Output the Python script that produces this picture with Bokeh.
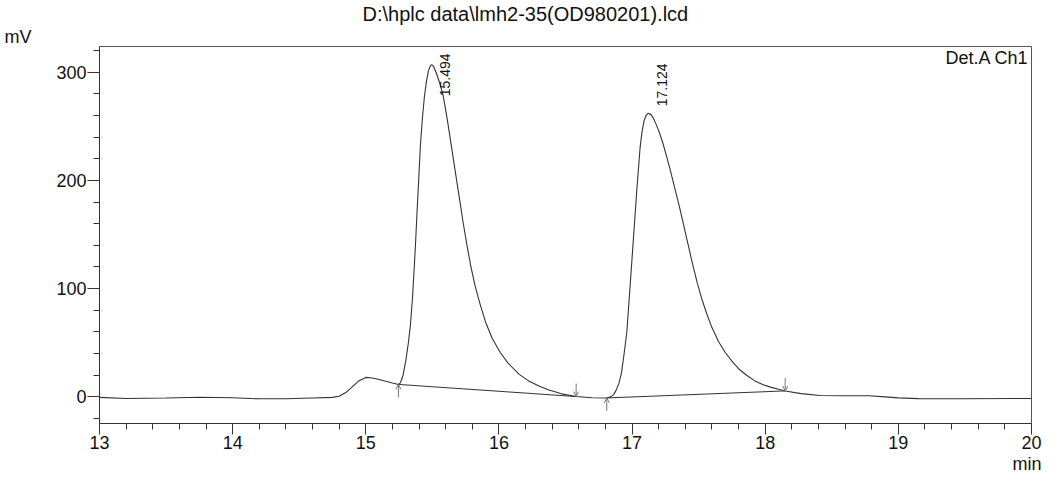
import numpy as np
from bokeh.plotting import figure
from bokeh.models import Range1d, FixedTicker, Label, Arrow, OpenHead, Title
from bokeh.embed import file_html
from bokeh.resources import INLINE

# ---------------- data ----------------
time_min = [13.00, 13.20, 13.50, 13.75, 14.00, 14.20, 14.40, 14.60, 14.75, 14.80,
            14.85, 14.90, 14.95, 15.00, 15.05, 15.10, 15.15, 15.20, 15.245,
            15.26, 15.28, 15.30, 15.32, 15.335, 15.35, 15.36, 15.373, 15.385,
            15.398, 15.41, 15.425, 15.44, 15.455, 15.47, 15.485, 15.495,
            15.51, 15.53, 15.555, 15.58, 15.61, 15.64, 15.67, 15.70, 15.73,
            15.76, 15.79, 15.82, 15.86, 15.90, 15.95, 16.01, 16.07, 16.15,
            16.22, 16.30, 16.37, 16.47, 16.58, 16.70, 16.81,
            16.84, 16.86, 16.88, 16.90, 16.92, 16.935, 16.96, 16.985, 17.01,
            17.035, 17.06, 17.075, 17.09, 17.105, 17.12,
            17.14, 17.16, 17.18, 17.20, 17.23, 17.26, 17.29, 17.32, 17.355,
            17.385, 17.415, 17.45, 17.49, 17.525, 17.56, 17.60, 17.65, 17.70,
            17.75, 17.80, 17.86, 17.92, 17.98, 18.04, 18.10, 18.15,
            18.27, 18.41, 18.58, 18.78, 18.90, 19.00, 19.15, 19.45, 20.00]
signal_mv = [-0.5, -1.5, -1.0, -0.3, -0.8, -1.8, -1.8, -1.0, -0.5, 0.5,
             4.0, 9.5, 15.0, 18.0, 17.5, 16.0, 14.5, 12.8, 11.5,
             13.0, 20.0, 33.0, 50.0, 66.0, 90.0, 111.0, 140.0, 171.0,
             202.0, 232.0, 257.0, 277.0, 291.0, 301.0, 306.0, 307.0,
             305.0, 299.0, 290.0, 279.0, 258.0, 234.0, 210.0, 186.0, 162.0,
             140.0, 120.0, 103.0, 85.0, 69.0, 54.0, 41.0, 31.0, 21.0,
             15.0, 10.0, 6.5, 2.8, 0.3, -0.8, -1.0,
             0.0, 1.8, 6.0, 12.0, 22.0, 35.0, 59.0, 102.0, 146.0,
             190.0, 230.0, 245.0, 255.0, 260.0, 262.0,
             261.0, 257.5, 252.0, 246.0, 235.0, 222.0, 208.0, 193.0, 176.0,
             160.0, 144.0, 125.0, 105.0, 90.0, 77.0, 64.0, 51.0, 41.0,
             33.0, 26.0, 20.0, 15.0, 11.5, 9.0, 7.0, 5.5,
             3.0, 1.2, 1.0, 1.0, 0.0, -0.9, -1.6, -1.8, -1.5]

peak_rt = [15.494, 17.124]
peak_height = [307.0, 262.0]
peak_text = ["15.494", "17.124"]

base_start_t = [15.245, 16.81]
base_start_mv = [11.5, -1.0]
base_end_t = [16.58, 18.15]
base_end_mv = [0.3, 5.5]

x_ticks = [13, 14, 15, 16, 17, 18, 19, 20]
y_ticks = [0, 100, 200, 300]

title_text = "D:\\hplc data\\lmh2-35(OD980201).lcd"
y_unit = "mV"
x_unit = "min"
channel_text = "Det.A Ch1"

# ---------------- layout ----------------
W, H = 1042, 475
BL, BR, BT, BB = 99, 11, 44, 52
X0, X1 = 13.0, 20.0
Y0, Y1 = -24.6, 323.7
fw = W - BL - BR
fh = H - BT - BB
ppx = fw / (X1 - X0)   # px per minute
ppy = fh / (Y1 - Y0)   # px per mV


def dx(px):
    return px / ppx


def dy(px):
    return px / ppy


FONT = "Liberation Sans"
TXT = "#111111"

p = figure(width=W, height=H, output_backend="svg", toolbar_location=None,
           x_range=Range1d(X0, X1), y_range=Range1d(Y0, Y1),
           min_border_left=BL, min_border_right=BR,
           min_border_top=BT, min_border_bottom=BB)
p.background_fill_color = "white"
p.border_fill_color = "white"
p.outline_line_color = "#555555"
p.outline_line_width = 1
p.grid.visible = False

# titles / unit texts live in side panels so they are not clipped
p.title.text = title_text
p.title.align = "left"
p.title.offset = 263
p.title.text_font = FONT
p.title.text_font_size = "20px"
p.title.text_font_style = "normal"
p.title.text_color = TXT
p.title.standoff = 0

p.add_layout(Title(text=y_unit, align="left", offset=-95, text_font=FONT,
                   text_font_size="18px", text_font_style="normal",
                   text_color=TXT, standoff=0), "above")
p.add_layout(Title(text=x_unit, align="right", offset=-10, text_font=FONT,
                   text_font_size="18px", text_font_style="normal",
                   text_color=TXT, standoff=0), "below")

minor_x = [round(a + b * 0.2, 2) for a in range(13, 20) for b in range(1, 5)]
minor_y = [v for v in range(-20, 321, 20) if v % 100 != 0]
p.xaxis.ticker = FixedTicker(ticks=x_ticks, minor_ticks=minor_x)
p.yaxis.ticker = FixedTicker(ticks=y_ticks, minor_ticks=minor_y)

for ax in (p.xaxis, p.yaxis):
    ax.axis_line_color = "#333333"
    ax.major_tick_line_color = "#333333"
    ax.minor_tick_line_color = "#333333"
    ax.major_tick_in = 0
    ax.minor_tick_in = 0
    ax.major_label_text_font = FONT
    ax.major_label_text_font_size = "18px"
    ax.major_label_text_color = TXT
p.xaxis.major_tick_out = 11
p.xaxis.minor_tick_out = 6
p.yaxis.major_tick_out = 12
p.yaxis.minor_tick_out = 6
p.xaxis.major_label_standoff = 1
p.yaxis.major_label_standoff = 1

# chromatogram trace
p.line(time_min, signal_mv, line_color="#333333", line_width=1.1)

# integration baselines
for t0, v0, t1, v1 in zip(base_start_t, base_start_mv, base_end_t, base_end_mv):
    p.line([t0, t1], [v0, v1], line_color="#333333", line_width=1)

# start (up) and end (down) markers
alen = dy(13)
for t0, v0, t1, v1 in zip(base_start_t, base_start_mv, base_end_t, base_end_mv):
    p.add_layout(Arrow(x_start=t0, y_start=v0 - alen, x_end=t0, y_end=v0,
                       line_color="#777777", line_width=1,
                       end=OpenHead(size=5, line_color="#777777", line_width=1)))
    p.add_layout(Arrow(x_start=t1, y_start=v1 + alen, x_end=t1, y_end=v1,
                       line_color="#777777", line_width=1,
                       end=OpenHead(size=5, line_color="#777777", line_width=1)))

# retention time labels (rotated)
for rt, h, txt in zip(peak_rt, peak_height, peak_text):
    ly = min(h + dy(7), Y1 - dy(50))
    p.add_layout(Label(x=rt + dx(13), y=ly, text=txt, angle=np.pi / 2,
                       text_align="left", text_baseline="middle",
                       text_font=FONT, text_font_size="14px", text_color=TXT))

p.add_layout(Label(x=X1 - dx(3), y=Y1 - dy(12), text=channel_text,
                   text_align="right", text_baseline="middle",
                   text_font=FONT, text_font_size="18px", text_color=TXT))

open("out.html", "w").write(file_html(p, INLINE))
